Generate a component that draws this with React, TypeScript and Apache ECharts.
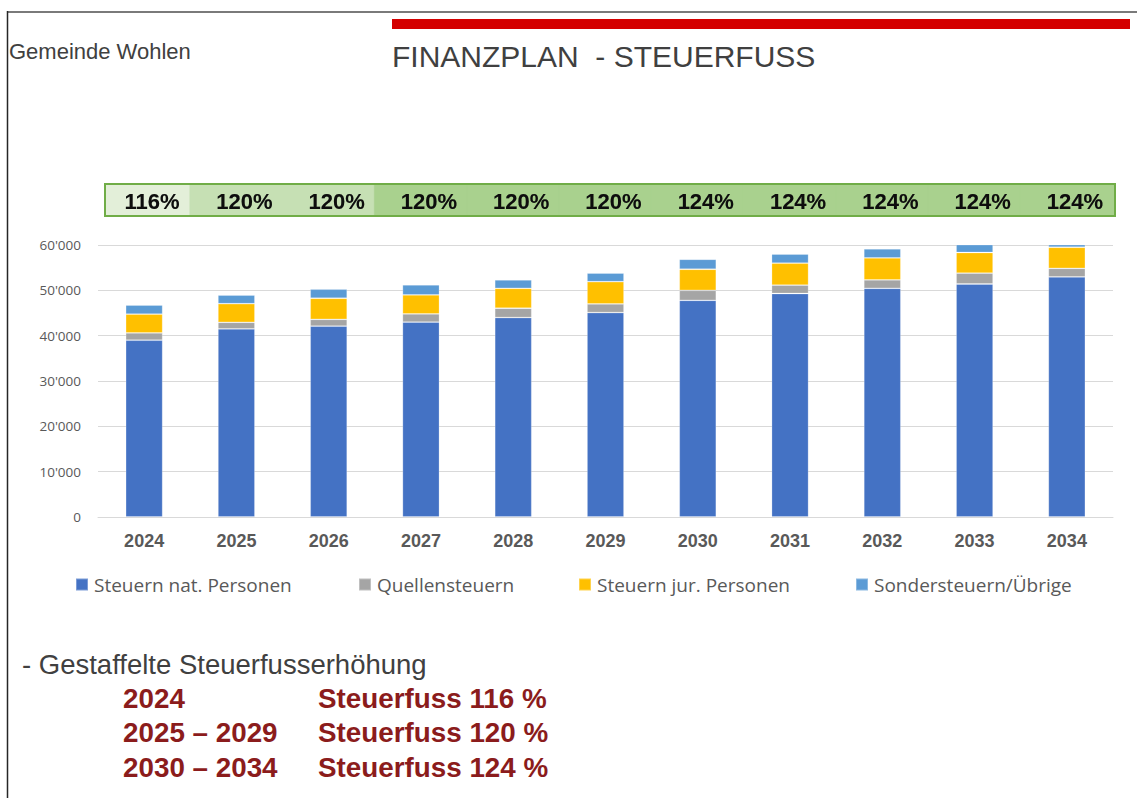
import React, { useEffect, useRef } from "react";
import * as echarts from "echarts";

const years = ["2024", "2025", "2026", "2027", "2028", "2029", "2030", "2031", "2032", "2033", "2034"];
const natPersonen = [39000, 41500, 42100, 43000, 44000, 45100, 47800, 49300, 50450, 51400, 52950];
const quellensteuern = [1600, 1450, 1500, 1800, 2050, 1900, 2200, 1850, 1850, 2400, 1900];
const jurPersonen = [4150, 4100, 4650, 4200, 4400, 4900, 4650, 4850, 4850, 4550, 4650];
const sondersteuern = [2000, 1900, 2000, 2200, 1850, 1900, 2200, 2000, 2000, 1850, 2000];
const steuerfuss = [116, 120, 120, 120, 120, 120, 124, 124, 124, 124, 124];
const seriesNames = ["Steuern nat. Personen", "Quellensteuern", "Steuern jur. Personen", "Sondersteuern/Übrige"];
const yTicks = { min: 0, max: 60000, interval: 10000 };
const headerLeft = "Gemeinde Wohlen";
const headerTitle = "FINANZPLAN  - STEUERFUSS";
const noteTitle = "- Gestaffelte Steuerfusserhöhung";
const noteYears = ["2024", "2025 – 2029", "2030 – 2034"];
const noteRates = ["Steuerfuss 116 %", "Steuerfuss 120 %", "Steuerfuss 124 %"];

const COLORS = ["#4472c4", "#a5a5a5", "#ffc000", "#5b9bd5"];
const STRIP_LEFT = 105;
const STRIP_RIGHT = 1115;
const STRIP_TOP = 184;
const STRIP_BOTTOM = 216;

export default function App() {
  const ref = useRef<HTMLDivElement>(null);
  useEffect(() => {
    if (!ref.current) return;
    const chart = echarts.init(ref.current, undefined, { renderer: "svg" });
    const values = [natPersonen, quellensteuern, jurPersonen, sondersteuern];
    const legendLefts = [75, 358, 578, 855];
    const fmt = (v: number) => {
      const s = String(Math.round(v));
      return s.replace(/\B(?=(\d{3})+(?!\d))/g, "'");
    };
    const option: any = {
      animation: false,
      backgroundColor: "#ffffff",
      grid: { left: 98, right: 24, top: 245, bottom: 281, containLabel: false },
      legend: seriesNames.map((n, i) => ({
        data: [n],
        left: legendLefts[i],
        top: 575,
        padding: 0,
        itemWidth: 12,
        itemHeight: 12,
        itemGap: 0,
        icon: "rect",
        selectedMode: false,
        textStyle: { fontFamily: "Open Sans", fontSize: 19, color: "#595959", padding: [0, 0, 0, 1] },
      })),
      xAxis: {
        type: "category",
        data: years,
        axisLine: { show: true, lineStyle: { color: "#d9d9d9", width: 1 } },
        axisTick: { show: false },
        axisLabel: {
          margin: 15,
          fontFamily: "Liberation Sans",
          fontWeight: "bold",
          fontSize: 18,
          color: "#595959",
        },
      },
      yAxis: {
        type: "value",
        min: yTicks.min,
        max: yTicks.max,
        interval: yTicks.interval,
        axisLine: { show: false },
        axisTick: { show: false },
        splitLine: { lineStyle: { color: "#d9d9d9", width: 1 } },
        axisLabel: {
          margin: 17,
          fontFamily: "Open Sans",
          fontSize: 13.5,
          color: "#595959",
          formatter: (v: number) => fmt(v),
        },
      },
      series: [
        ...seriesNames.map((n, i) => ({
          name: n,
          type: "bar",
          stack: "total",
          barWidth: 37,
          clip: true,
          data: values[i],
          itemStyle: { color: COLORS[i], borderColor: "rgba(255,255,255,0.3)", borderWidth: 0.8 },
        })),
        {
          name: "Steuerfuss",
          type: "custom",
          clip: false,
          z: 5,
          data: steuerfuss.map((v, i) => [i, v]),
          encode: { x: 0, y: 1 },
          renderItem: (params: any, api: any) => {
            const i = api.value(0);
            const v = api.value(1);
            const c = api.coord([i, 0]);
            const bw = api.size([1, 0])[0];
            const x0 = Math.max(c[0] - bw / 2 - 0.5, STRIP_LEFT);
            const x1 = Math.min(c[0] + bw / 2 + 1, STRIP_RIGHT);
            const fill = i === 0 ? "#e3efd9" : i < 3 ? "#c6e0b4" : "#a9d18e";
            return {
              type: "group",
              children: [
                {
                  type: "rect",
                  shape: { x: x0, y: STRIP_TOP, width: x1 - x0, height: STRIP_BOTTOM - STRIP_TOP },
                  style: { fill, stroke: fill, lineWidth: 0.5 },
                },
                {
                  type: "text",
                  style: {
                    text: v + "%",
                    x: c[0] + 8,
                    y: (STRIP_TOP + STRIP_BOTTOM) / 2 + 1,
                    textAlign: "center",
                    textVerticalAlign: "middle",
                    font: "bold 22px 'Liberation Sans', Arial, sans-serif",
                    fill: "#111111",
                    textShadowColor: "rgba(0,0,0,0.35)",
                    textShadowBlur: 1.5,
                  },
                },
              ],
            };
          },
        },
      ],
      graphic: [
        { type: "line", shape: { x1: 7, y1: 12, x2: 1137, y2: 12 }, style: { stroke: "#7a7a7a", lineWidth: 2 } },
        { type: "line", shape: { x1: 7.5, y1: 11, x2: 7.5, y2: 798 }, style: { stroke: "#262626", lineWidth: 1.5 } },
        { type: "rect", shape: { x: 392, y: 19, width: 738, height: 10 }, style: { fill: "#d40000" } },
        {
          type: "text",
          style: { text: headerLeft, x: 9, y: 51, textVerticalAlign: "middle", font: "22px 'Liberation Sans', Arial, sans-serif", fill: "#404040" },
        },
        {
          type: "text",
          style: { text: headerTitle, x: 392, y: 56, textVerticalAlign: "middle", font: "30px 'Liberation Sans', Arial, sans-serif", fill: "#404040" },
        },
        {
          type: "rect",
          z: 100,
          shape: { x: STRIP_LEFT, y: STRIP_TOP, width: STRIP_RIGHT - STRIP_LEFT, height: STRIP_BOTTOM - STRIP_TOP },
          style: { fill: "none", stroke: "#70ad47", lineWidth: 2 },
        },
        {
          type: "text",
          style: { text: noteTitle, x: 22, y: 664, textVerticalAlign: "middle", font: "27.5px 'Liberation Sans', Arial, sans-serif", fill: "#404040" },
        },
        ...noteYears.map((t, i) => ({
          type: "text",
          style: { text: t, x: 123, y: 698 + i * 34.5, textVerticalAlign: "middle", font: "bold 27.8px 'Liberation Sans', Arial, sans-serif", fill: "#8b1c1c" },
        })),
        ...noteRates.map((t, i) => ({
          type: "text",
          style: { text: t, x: 318, y: 698 + i * 34.5, textVerticalAlign: "middle", font: "bold 27.8px 'Liberation Sans', Arial, sans-serif", fill: "#8b1c1c" },
        })),
      ],
    };
    chart.setOption(option);
    return () => chart.dispose();
  }, []);
  return (
    <div
      ref={ref}
      style={{ position: "absolute", left: 0, top: 0, width: 1137, height: 798, background: "#fff" }}
    />
  );
}
